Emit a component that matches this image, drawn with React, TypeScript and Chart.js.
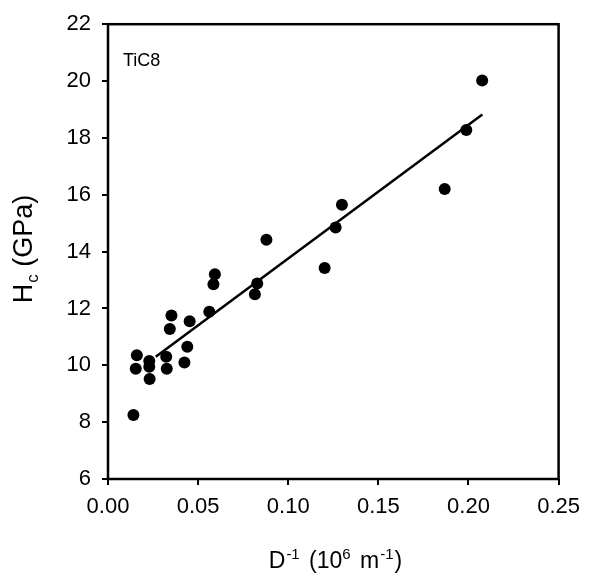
import React, { useEffect, useRef } from "react";
import { Chart, registerables } from "chart.js";

Chart.register(...registerables);

// Measured data points: inverse grain size D^-1 (10^6 m^-1) vs hardness Hc (GPa)
const invD: number[] = [
  0.0141, 0.0154, 0.016, 0.0229, 0.0229, 0.0231, 0.0323, 0.0326, 0.0343, 0.0352,
  0.0424, 0.044, 0.0453, 0.0562, 0.0585, 0.0593, 0.0815, 0.0828, 0.0879, 0.1202,
  0.1263, 0.1298, 0.1868, 0.1988, 0.2076,
];
const hardness: number[] = [
  8.25, 9.88, 10.35, 10.15, 9.95, 9.52, 10.3, 9.88, 11.28, 11.75,
  10.1, 10.65, 11.55, 11.88, 12.85, 13.2, 12.5, 12.88, 14.42, 13.42,
  14.85, 15.65, 16.2, 18.28, 20.02,
];

// Linear fit line endpoints
const fitX: number[] = [0.0265, 0.2077];
const fitY: number[] = [10.3, 18.82];

const xTicks: number[] = [0, 0.05, 0.1, 0.15, 0.2, 0.25];
const yTicks: number[] = [6, 8, 10, 12, 14, 16, 18, 20, 22];

const FONT = "'Liberation Sans', Arial, sans-serif";

type Seg = { t: string; size: number; dy: number; gap?: number };

function drawSegs(ctx: CanvasRenderingContext2D, segs: Seg[], cx: number, baseline: number) {
  let total = 0;
  for (const s of segs) {
    ctx.font = `${s.size}px ${FONT}`;
    total += ctx.measureText(s.t).width + (s.gap || 0);
  }
  let x = cx - total / 2;
  ctx.textAlign = "left";
  ctx.textBaseline = "alphabetic";
  for (const s of segs) {
    ctx.font = `${s.size}px ${FONT}`;
    ctx.fillText(s.t, x, baseline + s.dy);
    x += ctx.measureText(s.t).width + (s.gap || 0);
  }
}

const decorPlugin = {
  id: "decor",
  afterDraw(chart: any) {
    const { ctx, chartArea } = chart;
    ctx.save();
    // frame
    ctx.strokeStyle = "#000";
    ctx.lineWidth = 2.5;
    ctx.strokeRect(chartArea.left, chartArea.top, chartArea.right - chartArea.left, chartArea.bottom - chartArea.top);
    ctx.fillStyle = "#000";
    // inner label
    ctx.font = `18px ${FONT}`;
    ctx.textAlign = "left";
    ctx.textBaseline = "alphabetic";
    ctx.fillText("TiC8", 123, 66);
    // x title
    drawSegs(
      ctx,
      [
        { t: "D", size: 23, dy: 0, gap: 1 },
        { t: "-1", size: 15, dy: -9, gap: 3 },
        { t: " (10", size: 23, dy: 0, gap: 0 },
        { t: "6", size: 15, dy: -9, gap: 3 },
        { t: " m", size: 23, dy: 0, gap: 1 },
        { t: "-1", size: 15, dy: -9, gap: 1 },
        { t: ")", size: 23, dy: 0 },
      ],
      335.5,
      568
    );
    // y title (rotated)
    ctx.translate(32, 249);
    ctx.rotate(-Math.PI / 2);
    drawSegs(
      ctx,
      [
        { t: "H", size: 27, dy: 0, gap: 1 },
        { t: "c", size: 17, dy: 6, gap: 0 },
        { t: " (GPa)", size: 27, dy: 0 },
      ],
      0,
      0
    );
    ctx.restore();
  },
};

export default function App() {
  const ref = useRef<HTMLCanvasElement | null>(null);
  useEffect(() => {
    if (!ref.current) return;
    const chart = new Chart(ref.current, {
      type: "scatter",
      data: {
        datasets: [
          {
            type: "line",
            data: fitX.map((x, i) => ({ x, y: fitY[i] })),
            borderColor: "#000",
            borderWidth: 2.5,
            pointRadius: 0,
            fill: false,
            order: 2,
          } as any,
          {
            data: invD.map((x, i) => ({ x, y: hardness[i] })),
            backgroundColor: "#000",
            borderWidth: 0,
            pointRadius: 6,
            order: 1,
          },
        ],
      },
      options: {
        responsive: false,
        animation: false,
        layout: { padding: { top: 20, right: 27, left: 0, bottom: 0 } },
        plugins: { legend: { display: false }, tooltip: { enabled: false } },
        scales: {
          x: {
            type: "linear",
            min: 0,
            max: 0.25,
            afterBuildTicks: (s: any) => {
              s.ticks = xTicks.map((v) => ({ value: v }));
            },
            afterFit: (s: any) => {
              s.height = 101;
            },
            ticks: {
              color: "#000",
              font: { family: FONT, size: 22 },
              padding: 9,
              maxRotation: 0,
              callback: (v: any) => Number(v).toFixed(2),
            },
            grid: { drawOnChartArea: false, drawTicks: true, tickLength: 6, color: "#000", lineWidth: 2 },
            border: { display: false },
          },
          y: {
            type: "linear",
            min: 6,
            max: 22,
            afterBuildTicks: (s: any) => {
              s.ticks = yTicks.map((v) => ({ value: v }));
            },
            afterFit: (s: any) => {
              s.width = 108;
            },
            ticks: {
              color: "#000",
              font: { family: FONT, size: 22 },
              padding: 11,
              callback: (v: any) => String(v),
            },
            grid: { drawOnChartArea: false, drawTicks: true, tickLength: 6, color: "#000", lineWidth: 2 },
            border: { display: false },
          },
        },
      },
      plugins: [decorPlugin],
    });
    return () => chart.destroy();
  }, []);
  return (
    <div style={{ position: "fixed", left: 0, top: 0, width: 589, height: 580, background: "#fff" }}>
      <canvas ref={ref} width={589} height={580} style={{ width: 589, height: 580, display: "block" }} />
    </div>
  );
}
